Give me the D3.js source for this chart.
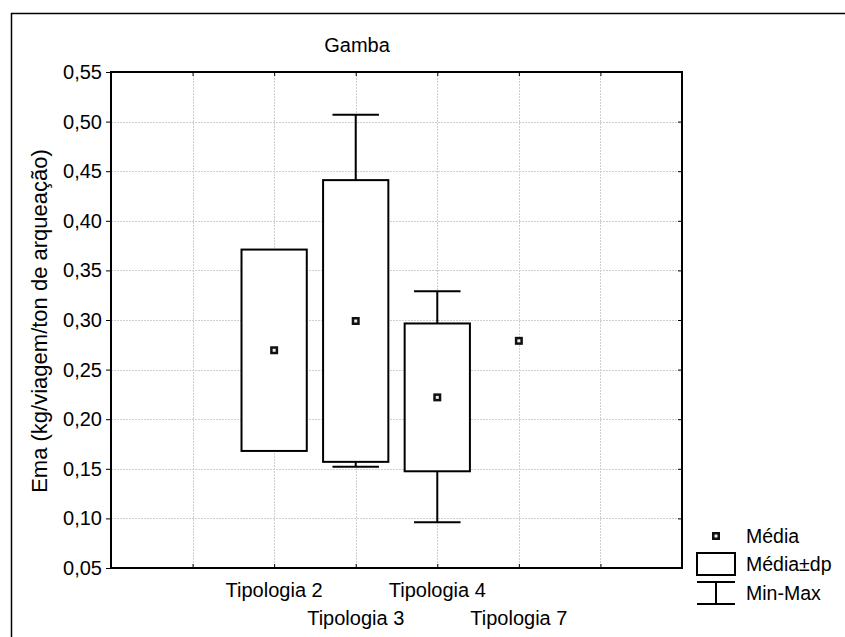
<!DOCTYPE html>
<html>
<head>
<meta charset="utf-8">
<script src="https://cdn.jsdelivr.net/npm/d3@7"></script>
<style>
  html, body { margin: 0; padding: 0; background: #fff; }
  svg { display: block; font-family: "Liberation Sans", Arial, sans-serif; }
</style>
</head>
<body>
<svg id="chart" width="845" height="637"></svg>
<script>
// Gamba: mean, mean ± sd and min-max per vessel type
const categories = ["Tipologia 2", "Tipologia 3", "Tipologia 4", "Tipologia 7"];
const means = [0.2695, 0.299, 0.222, 0.279];
const stdDevs = [0.1015, 0.142, 0.0745, null];
const minima = [null, 0.152, 0.096, null];
const maxima = [null, 0.507, 0.329, null];
const yTicks = [0.05, 0.10, 0.15, 0.20, 0.25, 0.30, 0.35, 0.40, 0.45, 0.50, 0.55];
const slotCount = 7;      // x axis slots, categories start at slot 2
const firstSlot = 2;

const svg = d3.select("#chart");
const plot = { left: 111, top: 72, right: 682, bottom: 568 };

const x = d3.scaleLinear().domain([0, slotCount]).range([plot.left, plot.right]);
const y = d3.scaleLinear().domain([0.05, 0.55]).range([plot.bottom, plot.top]);
const step = x(1) - x(0);
const boxW = step * 0.8;
const capW = step * 0.57;
const fmt = v => d3.format(".2f")(v).replace(".", ",");

// outer frame
svg.append("rect")
  .attr("x", 11.5).attr("y", 13.5).attr("width", 1000).attr("height", 1000)
  .attr("fill", "none").attr("stroke", "#000").attr("stroke-width", 1.5);

// grid
const grid = svg.append("g").attr("stroke", "#cfcfcf").attr("stroke-width", 1)
  .attr("stroke-dasharray", "2,1");
grid.selectAll("line.h").data(yTicks.slice(1, -1)).join("line")
  .attr("x1", plot.left).attr("x2", plot.right)
  .attr("y1", d => Math.round(y(d)) + 0.5).attr("y2", d => Math.round(y(d)) + 0.5);
grid.selectAll("line.v").data(d3.range(1, slotCount)).join("line")
  .attr("y1", plot.top).attr("y2", plot.bottom)
  .attr("x1", d => Math.round(x(d)) + 0.5).attr("x2", d => Math.round(x(d)) + 0.5);

// left axis with labels
const yAxis = d3.axisLeft(y).tickValues(yTicks).tickSize(5).tickPadding(4).tickFormat(fmt);
const gy = svg.append("g").attr("transform", `translate(${plot.left},0)`).call(yAxis);
gy.select(".domain").remove();
gy.selectAll("line").attr("stroke", "#000").attr("stroke-width", 1);
gy.selectAll("text").attr("font-size", 20).attr("fill", "#000")
  .attr("font-family", "Liberation Sans, Arial, sans-serif");

// right axis (inner ticks)
const gyr = svg.append("g").attr("transform", `translate(${plot.right},0)`)
  .call(d3.axisLeft(y).tickValues(yTicks).tickSize(4).tickFormat(""));
gyr.select(".domain").remove();
gyr.selectAll("line").attr("stroke", "#000");

// bottom and top axes (inner ticks)
const xTickVals = d3.range(1, slotCount);
const gxb = svg.append("g").attr("transform", `translate(0,${plot.bottom})`)
  .call(d3.axisTop(x).tickValues(xTickVals).tickSize(4).tickFormat(""));
gxb.select(".domain").remove();
gxb.selectAll("line").attr("stroke", "#000");
const gxt = svg.append("g").attr("transform", `translate(0,${plot.top})`)
  .call(d3.axisBottom(x).tickValues(xTickVals).tickSize(4).tickFormat(""));
gxt.select(".domain").remove();
gxt.selectAll("line").attr("stroke", "#000");

// plot frame
svg.append("rect")
  .attr("x", plot.left).attr("y", plot.top)
  .attr("width", plot.right - plot.left).attr("height", plot.bottom - plot.top)
  .attr("fill", "none").attr("stroke", "#000").attr("stroke-width", 2);

// category labels, staggered over two rows
svg.append("g").selectAll("text").data(categories).join("text")
  .attr("x", (d, i) => x(i + firstSlot))
  .attr("y", (d, i) => i % 2 === 0 ? 597 : 625)
  .attr("text-anchor", "middle").attr("font-size", 20).attr("fill", "#000")
  .text(d => d);

// title and y label
svg.append("text").attr("x", 357).attr("y", 52).attr("text-anchor", "middle")
  .attr("font-size", 20).text("Gamba");
svg.append("text")
  .attr("transform", `translate(47,${(plot.top + plot.bottom) / 2 + 1}) rotate(-90)`)
  .attr("text-anchor", "middle").attr("font-size", 22)
  .text("Ema (kg/viagem/ton de arqueação)");

// marks
const rows = categories.map((c, i) => ({
  i, mean: means[i], sd: stdDevs[i], min: minima[i], max: maxima[i]
}));
const marks = svg.append("g");

// whiskers: from box edge to min / max
rows.filter(d => d.max != null).forEach(d => {
  const cx = x(d.i + firstSlot);
  const top = d.sd != null ? d.mean + d.sd : d.mean;
  const bot = d.sd != null ? d.mean - d.sd : d.mean;
  const g = marks.append("g").attr("stroke", "#000").attr("stroke-width", 2);
  g.append("line").attr("x1", cx).attr("x2", cx).attr("y1", y(top)).attr("y2", y(d.max));
  g.append("line").attr("x1", cx - capW / 2).attr("x2", cx + capW / 2).attr("y1", y(d.max)).attr("y2", y(d.max));
  g.append("line").attr("x1", cx).attr("x2", cx).attr("y1", y(bot)).attr("y2", y(d.min));
  g.append("line").attr("x1", cx - capW / 2).attr("x2", cx + capW / 2).attr("y1", y(d.min)).attr("y2", y(d.min));
});

// mean ± sd boxes
marks.selectAll("rect.box").data(rows.filter(d => d.sd != null)).join("rect")
  .attr("class", "box")
  .attr("x", d => x(d.i + firstSlot) - boxW / 2)
  .attr("width", boxW)
  .attr("y", d => y(d.mean + d.sd))
  .attr("height", d => y(d.mean - d.sd) - y(d.mean + d.sd))
  .attr("fill", "#fff").attr("stroke", "#000").attr("stroke-width", 2);

// means
const meanSize = 5.5;
marks.selectAll("rect.mean").data(rows).join("rect")
  .attr("class", "mean")
  .attr("x", d => x(d.i + firstSlot) - meanSize / 2)
  .attr("y", d => y(d.mean) - meanSize / 2)
  .attr("width", meanSize).attr("height", meanSize)
  .attr("fill", "#eeeeee").attr("stroke", "#111").attr("stroke-width", 2.5);

// legend
const lg = svg.append("g");
lg.append("rect").attr("x", 716 - meanSize / 2).attr("y", 536 - meanSize / 2)
  .attr("width", meanSize).attr("height", meanSize)
  .attr("fill", "#eeeeee").attr("stroke", "#111").attr("stroke-width", 2.5);
lg.append("rect").attr("x", 697).attr("y", 553).attr("width", 38).attr("height", 22)
  .attr("fill", "#fff").attr("stroke", "#000").attr("stroke-width", 2);
lg.append("line").attr("x1", 697).attr("x2", 735).attr("y1", 582).attr("y2", 582)
  .attr("stroke", "#000").attr("stroke-width", 2);
lg.append("line").attr("x1", 697).attr("x2", 735).attr("y1", 604).attr("y2", 604)
  .attr("stroke", "#000").attr("stroke-width", 2);
lg.append("line").attr("x1", 716).attr("x2", 716).attr("y1", 582).attr("y2", 604)
  .attr("stroke", "#000").attr("stroke-width", 2);
const legendLabels = ["Média", "Média±dp", "Min-Max"];
lg.selectAll("text").data(legendLabels).join("text")
  .attr("x", 746).attr("y", (d, i) => [543, 571, 600][i])
  .attr("font-size", 19.5).text(d => d);
</script>
</body>
</html>
